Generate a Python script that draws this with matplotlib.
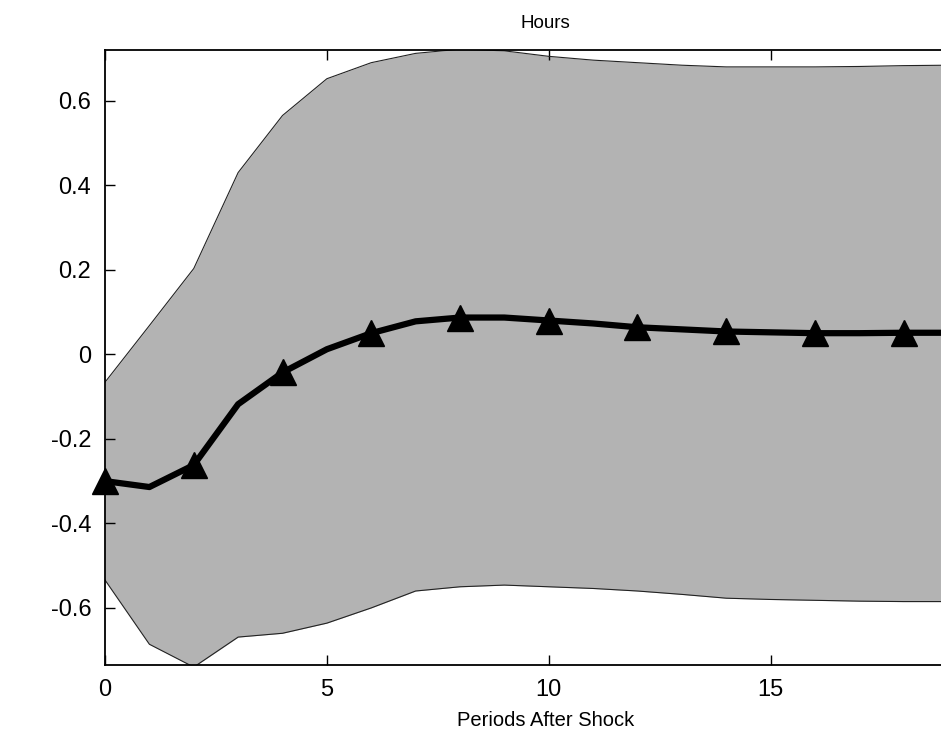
import matplotlib
matplotlib.use("Agg")
import matplotlib.pyplot as plt
import numpy as np

plt.rcParams["font.family"] = ["Liberation Sans", "DejaVu Sans"]

periods = np.arange(0, 20)
median = [-0.300, -0.314, -0.262, -0.118, -0.043, 0.012, 0.050, 0.078, 0.087, 0.087,
          0.080, 0.073, 0.064, 0.059, 0.054, 0.052, 0.050, 0.050, 0.051, 0.051]
upper = [-0.066, 0.068, 0.203, 0.430, 0.565, 0.652, 0.690, 0.712, 0.722, 0.718,
         0.705, 0.696, 0.690, 0.684, 0.680, 0.680, 0.680, 0.681, 0.683, 0.684]
lower = [-0.534, -0.686, -0.740, -0.669, -0.660, -0.636, -0.600, -0.560, -0.550, -0.546,
         -0.550, -0.554, -0.560, -0.568, -0.577, -0.580, -0.582, -0.584, -0.585, -0.585]

fig = plt.figure(figsize=(9.41, 7.33), dpi=100)
ax = fig.add_axes([0.1116, 0.0928, 0.936, 0.839])

ax.fill_between(periods, lower, upper, color="#b3b3b3", linewidth=0)
ax.plot(periods, upper, color="#222222", linewidth=0.8)
ax.plot(periods, lower, color="#222222", linewidth=0.8)
ax.plot(periods, median, color="black", linewidth=4.5)
ax.plot(periods[::2], median[::2], "^", color="black", markersize=19, clip_on=False)

ax.set_xlim(0, 19.85)
ax.set_ylim(-0.735, 0.72)
ax.set_xticks([0, 5, 10, 15])
ax.set_yticks([-0.6, -0.4, -0.2, 0, 0.2, 0.4, 0.6])
ax.set_yticklabels(["-0.6", "-0.4", "-0.2", "0", "0.2", "0.4", "0.6"])
ax.tick_params(direction="in", top=True, right=True, length=7, width=1,
               labelsize=17, pad=10)
for s in ax.spines.values():
    s.set_linewidth(1.3)

ax.set_title("Hours", fontsize=13.5, pad=16)
ax.set_xlabel("Periods After Shock", fontsize=14.5, labelpad=7)

fig.savefig("out.png", dpi=100)
